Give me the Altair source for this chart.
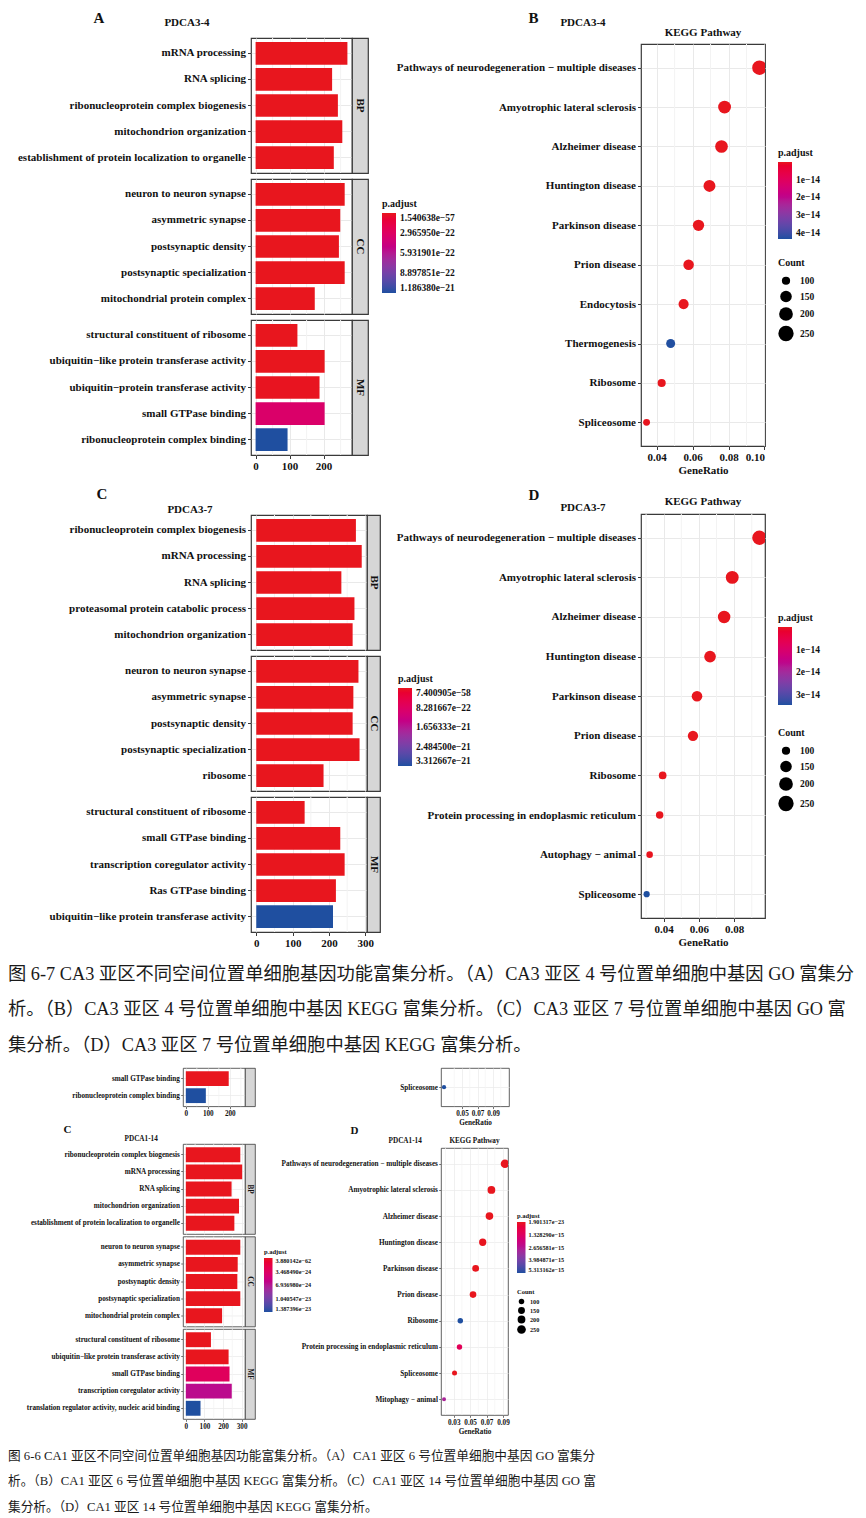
import altair as alt
import pandas as pd

SERIF = "Liberation Serif"
CAPFONT = "Liberation Serif, Noto Sans CJK SC"
RED = "#e8161e"
BLUE = "#1f4fa0"
INK = "#111111"
BORDER = "#3a3a3a"
GRID = "#e9e9e9"
MINOR = "#f3f3f3"
STRIP = "#d6d6d6"

# ---------------- data: panel A (PDCA3-4, GO) ----------------
A_SUB = "PDCA3-4"
A_BP_TERMS = ["mRNA processing", "RNA splicing", "ribonucleoprotein complex biogenesis",
              "mitochondrion organization", "establishment of protein localization to organelle"]
A_BP_COUNT = [270, 225, 242, 255, 230]
A_BP_PADJ = [1.6e-57, 2e-45, 3e-44, 5e-40, 8e-38]
A_CC_TERMS = ["neuron to neuron synapse", "asymmetric synapse", "postsynaptic density",
              "postsynaptic specialization", "mitochondrial protein complex"]
A_CC_COUNT = [262, 249, 245, 262, 174]
A_CC_PADJ = [1e-50, 2e-48, 3e-47, 1e-49, 4e-35]
A_MF_TERMS = ["structural constituent of ribosome", "ubiquitin\u2212like protein transferase activity",
              "ubiquitin\u2212protein transferase activity", "small GTPase binding",
              "ribonucleoprotein complex binding"]
A_MF_COUNT = [123, 203, 188, 203, 94]
A_MF_PADJ = [1e-30, 2e-25, 5e-24, 3.4e-22, 1.18638e-21]
A_PADJ_TICKS = [1.540638e-57, 2.965950e-22, 5.931901e-22, 8.897851e-22, 1.186380e-21]

# ---------------- data: panel B (PDCA3-4, KEGG) ----------------
B_TERMS = ["Pathways of neurodegeneration \u2212 multiple diseases", "Amyotrophic lateral sclerosis",
           "Alzheimer disease", "Huntington disease", "Parkinson disease", "Prion disease",
           "Endocytosis", "Thermogenesis", "Ribosome", "Spliceosome"]
B_RATIO = [0.0972, 0.0778, 0.0761, 0.0694, 0.0633, 0.0578, 0.0550, 0.0478, 0.0428, 0.0344]
B_COUNT = [224, 179, 175, 160, 146, 133, 127, 110, 98, 79]
B_PADJ = [1e-40, 1e-30, 1e-29, 2e-25, 3e-22, 1e-20, 5e-18, 4.33e-14, 2e-19, 1e-16]
B_PADJ_TICKS = [1e-14, 2e-14, 3e-14, 4e-14]
B_PADJ_MAX = 4.35e-14

# ---------------- data: panel C (PDCA3-7, GO) ----------------
C_SUB = "PDCA3-7"
C_BP_TERMS = ["ribonucleoprotein complex biogenesis", "mRNA processing", "RNA splicing",
              "proteasomal protein catabolic process", "mitochondrion organization"]
C_BP_COUNT = [274, 290, 234, 270, 265]
C_BP_PADJ = [7.5e-58, 1e-55, 1e-45, 1e-44, 1e-40]
C_CC_TERMS = ["neuron to neuron synapse", "asymmetric synapse", "postsynaptic density",
              "postsynaptic specialization", "ribosome"]
C_CC_COUNT = [281, 267, 265, 284, 185]
C_CC_PADJ = [1e-50, 1e-48, 1e-47, 1e-49, 1e-35]
C_MF_TERMS = ["structural constituent of ribosome", "small GTPase binding",
              "transcription coregulator activity", "Ras GTPase binding",
              "ubiquitin\u2212like protein transferase activity"]
C_MF_COUNT = [133, 231, 243, 219, 211]
C_MF_PADJ = [1e-33, 1e-27, 1e-26, 1e-25, 3.312667e-21]
C_PADJ_TICKS = [7.400905e-58, 8.281667e-22, 1.656333e-21, 2.484500e-21, 3.312667e-21]

# ---------------- data: panel D (PDCA3-7, KEGG) ----------------
D_TERMS = ["Pathways of neurodegeneration \u2212 multiple diseases", "Amyotrophic lateral sclerosis",
           "Alzheimer disease", "Huntington disease", "Parkinson disease", "Prion disease",
           "Ribosome", "Protein processing in endoplasmic reticulum", "Autophagy \u2212 animal",
           "Spliceosome"]
D_RATIO = [0.0943, 0.0789, 0.0743, 0.0663, 0.0589, 0.0566, 0.0394, 0.0377, 0.0320, 0.0303]
D_COUNT = [217, 181, 171, 152, 135, 130, 91, 87, 74, 70]
D_PADJ = [1e-40, 1e-32, 1e-30, 1e-27, 1e-24, 1e-22, 1e-20, 1e-18, 1e-16, 3.45e-14]
D_PADJ_TICKS = [1e-14, 2e-14, 3e-14]
D_PADJ_MAX = 3.45e-14

# ---------------- data: cut-off remains of the previous figure ----------------
P_TERMS = ["small GTPase binding", "ribonucleoprotein complex binding"]
P_COUNT = [195, 91]
P_PADJ = [1e-30, 1.0]
PR_TERMS = ["Spliceosome"]
PR_RATIO = [0.0268]
PR_COUNT = [55]
PR_PADJ = [1.0]

# ---------------- data: lower panel C (PDCA1-14, GO) ----------------
LC_SUB = "PDCA1-14"
LC_BP_TERMS = ["ribonucleoprotein complex biogenesis", "mRNA processing", "RNA splicing",
               "mitochondrion organization", "establishment of protein localization to organelle"]
LC_BP_COUNT = [293, 303, 246, 286, 261]
LC_BP_PADJ = [3.9e-62, 1e-58, 1e-50, 1e-48, 1e-45]
LC_CC_TERMS = ["neuron to neuron synapse", "asymmetric synapse", "postsynaptic density",
               "postsynaptic specialization", "mitochondrial protein complex"]
LC_CC_COUNT = [293, 279, 277, 293, 195]
LC_CC_PADJ = [1e-55, 1e-52, 1e-51, 1e-54, 1e-38]
LC_MF_TERMS = ["structural constituent of ribosome", "ubiquitin\u2212like protein transferase activity",
               "small GTPase binding", "transcription coregulator activity",
               "translation regulator activity, nucleic acid binding"]
LC_MF_COUNT = [135, 230, 235, 247, 79]
LC_MF_PADJ = [1e-40, 1e-30, 3.2e-24, 6.5e-24, 1.387396e-23]
LC_PADJ_TICKS = [3.880142e-62, 3.468490e-24, 6.936980e-24, 1.040547e-23, 1.387396e-23]

# ---------------- data: lower panel D (PDCA1-14, KEGG) ----------------
LD_TERMS = ["Pathways of neurodegeneration \u2212 multiple diseases", "Amyotrophic lateral sclerosis",
            "Alzheimer disease", "Huntington disease", "Parkinson disease", "Prion disease",
            "Ribosome", "Protein processing in endoplasmic reticulum", "Spliceosome",
            "Mitophagy \u2212 animal"]
LD_RATIO = [0.0924, 0.0759, 0.0735, 0.0653, 0.0567, 0.0535, 0.0380, 0.0370, 0.0310, 0.0182]
LD_COUNT = [240, 197, 191, 170, 147, 139, 99, 96, 81, 47]
LD_PADJ = [1.91e-23, 1e-20, 1e-19, 2e-17, 1e-18, 1e-18, 5.313162e-15, 1.1e-15, 1e-18, 2.9e-15]
LD_PADJ_TICKS = [1.901317e-23, 1.328290e-15, 2.656581e-15, 3.984871e-15, 5.313162e-15]

CAP1 = ["图 6-7 CA3 亚区不同空间位置单细胞基因功能富集分析。（A）CA3 亚区 4 号位置单细胞中基因 GO 富集分",
        "析。（B）CA3 亚区 4 号位置单细胞中基因 KEGG 富集分析。（C）CA3 亚区 7 号位置单细胞中基因 GO 富",
        "集分析。（D）CA3 亚区 7 号位置单细胞中基因 KEGG 富集分析。"]
CAP2 = ["图 6-6 CA1 亚区不同空间位置单细胞基因功能富集分析。（A）CA1 亚区 6 号位置单细胞中基因 GO 富集分",
        "析。（B）CA1 亚区 6 号位置单细胞中基因 KEGG 富集分析。（C）CA1 亚区 14 号位置单细胞中基因 GO 富",
        "集分析。（D）CA1 亚区 14 号位置单细胞中基因 KEGG 富集分析。"]

COUNT_TICKS = [100, 150, 200, 250]
SIZE_DOM_UP = [50, 100, 150, 200, 250, 300]
SIZE_RANGE_UP = [19.6, 67.9, 132.7, 188.7, 235.1, 283.5]
SIZE_DOM_LO = [40, 100, 150, 200, 250, 300]
SIZE_RANGE_LO = [13.9, 30.2, 47.8, 60.8, 75.4, 88.2]


def ind(c):
    return c.resolve_scale(x="independent", y="independent", color="independent", size="independent")


def vstack(*charts, spacing=0):
    return ind(alt.concat(*charts, columns=1, align="none", spacing=spacing))


def hstack(*charts, spacing=0):
    return ind(alt.concat(*charts, columns=len(charts), align="none", spacing=spacing))


def spacer(w=1, h=1):
    return alt.Chart(pd.DataFrame({"d": [0]})).mark_rect(opacity=0).encode(
        x=alt.value(0), x2=alt.value(w), y=alt.value(0), y2=alt.value(h)
    ).properties(width=w, height=h, view=alt.ViewBackground(fill="white", fillOpacity=0, strokeWidth=0))


def tparams(text, fs, dx=0, dy=0, offset=0, anchor="start", frame="bounds"):
    return alt.TitleParams(text=text, font=SERIF, fontSize=fs, fontWeight="bold", color=INK,
                           anchor=anchor, frame=frame, dx=dx, dy=dy, offset=offset)


def grad_legend(st, fmt):
    return alt.Legend(title="p.adjust", orient="none", legendX=st["lx"], legendY=st["ly"],
                      direction="vertical", gradientLength=st["llen"], gradientThickness=st["lthick"],
                      gradientStrokeWidth=0, values=st["cticks"],
                      labelExpr="replace(format(datum.value, '" + fmt + "'), '-', '\u2212')",
                      titleFont=SERIF, titleFontSize=st["ltfs"], titleFontWeight="bold", titleColor=INK,
                      titlePadding=st["ltpad"], labelFont=SERIF, labelFontSize=st["llfs"],
                      labelFontWeight="bold", labelColor=INK, labelOffset=st["loff"], padding=0,
                      labelOverlap=False)


def size_legend(st):
    return alt.Legend(title="Count", orient="none", legendX=st["sx"], legendY=st["sy"], values=COUNT_TICKS,
                      symbolType="circle", symbolFillColor="black", symbolStrokeColor="black",
                      symbolStrokeWidth=0, symbolOpacity=1, titleFont=SERIF, titleFontSize=st["ltfs"],
                      titleFontWeight="bold", titleColor=INK, titlePadding=st["stpad"], labelFont=SERIF,
                      labelFontSize=st["llfs"], labelFontWeight="bold", labelColor=INK,
                      labelOffset=st["sloff"], rowPadding=st["srp"], padding=0)


def yaxis(st):
    return alt.Axis(title=None, domain=False, grid=True, gridColor=GRID, gridWidth=st["gw"],
                    labelFont=SERIF, labelFontSize=st["fs"], labelFontWeight="bold", labelColor=INK,
                    tickColor=BORDER, tickSize=st["tick"], tickWidth=st["tw"], labelPadding=st["lp"],
                    labelLimit=600, minExtent=st["minext"], bandPosition=0.5)


def color_scale(dmin, dmax):
    # descending domain so that the vertical legend shows the smallest value on top (as in ggplot)
    return alt.Scale(domain=[dmax, dmin], range=[BLUE, RED], interpolate="hcl")


def go_panel(cats, st, letter=None, sub=None):
    fs = st["fs"]
    xscale = alt.Scale(domain=st["xdom"], nice=False, zero=False)
    cscale = color_scale(st["cticks"][0], st["cticks"][-1])
    legend = grad_legend(st, ".6e") if st.get("legend", True) else None
    rows = []
    n = len(cats)
    for i, (cat, terms, counts, padj) in enumerate(cats):
        last = i == n - 1
        if last:
            xaxis = alt.Axis(values=st["xticks"], format="d", title=None, domain=False,
                             grid=True, gridColor=GRID, gridWidth=st["gw"], labelFont=SERIF, labelFontSize=fs,
                             labelFontWeight="bold", labelColor=INK, tickColor=BORDER, tickSize=st["tick"],
                             tickWidth=st["tw"], labelPadding=st["lp"])
        else:
            xaxis = alt.Axis(values=st["xticks"], title=None, domain=False, labels=False, ticks=False,
                             grid=True, gridColor=GRID, gridWidth=st["gw"], labelPadding=0, tickSize=0,
                             minExtent=0, maxExtent=0)
        df = pd.DataFrame({"term": terms, "count": counts, "padj": padj})
        minor = alt.Chart(pd.DataFrame({"v": st["minor"]})).mark_rule(
            color=MINOR, strokeWidth=st["gw"]).encode(x=alt.X("v:Q", scale=xscale, axis=xaxis))
        bars = alt.Chart(df).mark_bar().encode(
            y=alt.Y("term:N", sort=terms,
                    scale=alt.Scale(paddingInner=0.13, paddingOuter=st.get("po", 0.15)), axis=yaxis(st)),
            x=alt.X("count:Q", scale=xscale, axis=xaxis),
            x2=alt.datum(0),
            color=alt.Color("padj:Q", scale=cscale, legend=legend),
        )
        plot = alt.layer(minor, bars).properties(
            width=st["w"], height=st["h"],
            view=alt.ViewBackground(fill="white", stroke=BORDER, strokeWidth=st["bw"]))
        label = cat if st.get("striptext", True) else ""
        strip = alt.Chart(pd.DataFrame({"cat": [label]})).mark_text(
            angle=90, font=SERIF, fontSize=fs, fontWeight="bold", color=INK
        ).encode(text="cat:N", x=alt.value(st["sw"] / 2), y=alt.value(st["h"] / 2)).properties(
            width=st["sw"], height=st["h"],
            view=alt.ViewBackground(fill=STRIP, stroke=BORDER, strokeWidth=st["bw"]))
        row = alt.hconcat(plot, strip, spacing=0, bounds="flush")
        if i == 0 and sub:
            row = row.properties(title=tparams(sub, fs, dx=st["sub_dx"], offset=st["o1"]))
        rows.append(row)
    panel = alt.vconcat(*rows, spacing=st["gap"])
    if letter:
        panel = panel.properties(title=tparams(letter, st["letter_fs"], dx=st["letter_dx"], offset=st["oA"]))
    return panel.resolve_scale(y="independent", x="shared", color="shared")


def kegg_panel(terms, ratio, count, padj, st, letter=None, sub=None):
    fs = st["fs"]
    xscale = alt.Scale(domain=st["xdom"], nice=False, zero=False)
    cscale = color_scale(0, st["cmax"])
    xaxis = alt.Axis(values=st["xticks"], format=".2f", title="GeneRatio", titleFont=SERIF, titleFontSize=fs,
                     titleFontWeight="bold", titleColor=INK, titlePadding=st["tp"], domain=False, grid=True,
                     gridColor=GRID, gridWidth=st["gw"], labelFont=SERIF, labelFontSize=fs,
                     labelFontWeight="bold", labelColor=INK, tickColor=BORDER, tickSize=st["tick"],
                     tickWidth=st["tw"], labelPadding=st["lp"])
    df = pd.DataFrame({"term": terms, "ratio": ratio, "count": count, "padj": padj})
    minor = alt.Chart(pd.DataFrame({"v": st["minor"]})).mark_rule(
        color=MINOR, strokeWidth=st["gw"]).encode(x=alt.X("v:Q", scale=xscale, axis=xaxis))
    cleg = grad_legend(st, st["fmt"]) if st.get("legend", True) else None
    sleg = size_legend(st) if st.get("legend", True) else None
    pts = alt.Chart(df).mark_circle(opacity=1, clip=True).encode(
        x=alt.X("ratio:Q", scale=xscale, axis=xaxis),
        y=alt.Y("term:N", sort=terms, scale=alt.Scale(type="point", padding=0.6), axis=yaxis(st)),
        size=alt.Size("count:Q", scale=alt.Scale(domain=st["sdom"], range=st["srange"], zero=False, nice=False),
                      legend=sleg),
        color=alt.Color("padj:Q", scale=cscale, legend=cleg),
    )
    props = dict(width=st["w"], height=st["h"],
                 view=alt.ViewBackground(fill="white", stroke=BORDER, strokeWidth=st["bw"]))
    if st.get("ktitle", True):
        props["title"] = alt.TitleParams(text="KEGG Pathway", anchor="middle", frame="group", font=SERIF,
                                         fontSize=fs, fontWeight="bold", color=INK, offset=st["oK"])
    plot = alt.layer(minor, pts).properties(**props)
    if sub is None:
        return plot
    w1 = ind(alt.vconcat(plot)).properties(title=tparams(sub, fs, dx=st["sub_dx"], offset=st["oP"],
                                                         dy=st.get("sub_dy", 0)))
    w2 = ind(alt.vconcat(w1)).properties(title=tparams(letter, st["letter_fs"], dx=st["letter_dx"],
                                                       offset=st["oB"]))
    return w2


def caption(lines, fs, step, width):
    df = pd.DataFrame({"i": list(range(len(lines))), "t": lines})
    return alt.Chart(df).mark_text(align="left", baseline="middle", font=CAPFONT, fontSize=fs,
                                   color="#1a1a1a").encode(
        y=alt.Y("i:O", axis=None, scale=alt.Scale(paddingInner=0, paddingOuter=0)),
        x=alt.value(0), text="t:N").properties(
        width=width, height=step * len(lines),
        view=alt.ViewBackground(fill="white", strokeWidth=0, stroke="white"))


UP = dict(fs=11, gw=1, bw=1.2, tick=3.5, tw=1, lp=2, letter_fs=15,
          ltfs=10, llfs=9.5, ltpad=4, stpad=8, loff=4, lthick=14, sloff=6, srp=4.5)
LO = dict(fs=7.2, gw=0.7, bw=0.8, tick=2.3, tw=0.7, lp=1.3, letter_fs=11,
          ltfs=6.5, llfs=6.2, ltpad=2.5, stpad=3, loff=3, lthick=8.5, sloff=4, srp=1.5)

stA = dict(UP, w=101, h=135, sw=16, gap=2, minext=241, xdom=[-13.5, 283.5], xticks=[0, 100, 200],
           minor=[50, 150, 250], cticks=A_PADJ_TICKS, lx=131, ly=161, llen=80,
           letter_dx=84, oA=-9, sub_dx=155, o1=8.5)
stC = dict(UP, w=116, h=135, sw=13, gap=2, minext=238, xdom=[-14.5, 304.5], xticks=[0, 100, 200, 300],
           minor=[50, 150, 250], cticks=C_PADJ_TICKS, lx=147, ly=159, llen=78,
           letter_dx=84, oA=2, sub_dx=155, o1=-1.5)
stB = dict(UP, w=124, h=402, minext=250, xdom=[0.0313, 0.1003], xticks=[0.04, 0.06, 0.08, 0.10],
           minor=[0.05, 0.07, 0.09], cmax=B_PADJ_MAX, cticks=B_PADJ_TICKS, fmt=".0e", lx=137, ly=104,
           llen=77, sx=137, sy=214, sdom=SIZE_DOM_UP, srange=SIZE_RANGE_UP, tp=2,
           letter_dx=138, oB=-9, sub_dx=170, oP=-2, oK=5.5)
stD = dict(UP, w=124, h=404, minext=250, xdom=[0.0271, 0.0975], xticks=[0.04, 0.06, 0.08],
           minor=[0.03, 0.05, 0.07, 0.09], cmax=D_PADJ_MAX, cticks=D_PADJ_TICKS, fmt=".0e", lx=137, ly=99,
           llen=78, sx=137, sy=214, sdom=SIZE_DOM_UP, srange=SIZE_RANGE_UP, tp=2,
           letter_dx=138, oB=-8, sub_dx=170, sub_dy=13, oP=-5, oK=6.5)
stPL = dict(LO, w=62, h=38.3, sw=10, gap=0, minext=173, xdom=[-12.8, 269], xticks=[0, 100, 200],
            minor=[50, 150, 250], cticks=[0.0, 1.0], legend=False, striptext=False, po=0.19)
stPR = dict(LO, w=68, h=38.3, minext=165, xdom=[0.0229, 0.1106], xticks=[0.05, 0.07, 0.09],
            minor=[0.04, 0.06, 0.08, 0.10], cmax=1.0, cticks=[1.0], fmt=".0e", legend=False, ktitle=False,
            sdom=SIZE_DOM_LO, srange=SIZE_RANGE_LO, tp=1.5)
stLC = dict(LO, w=62, h=90, sw=10, gap=0.5, minext=173, xdom=[-15.2, 318.2], xticks=[0, 100, 200, 300],
            minor=[50, 150, 250], cticks=LC_PADJ_TICKS, lx=81, ly=105, llen=54, po=0.19,
            letter_dx=54, oA=0, sub_dx=115, o1=1.4)
stLD = dict(LO, w=67, h=267, minext=165, xdom=[0.0145, 0.0961], xticks=[0.03, 0.05, 0.07, 0.09],
            minor=[0.02, 0.04, 0.06, 0.08], cmax=LD_PADJ_TICKS[-1], cticks=LD_PADJ_TICKS, fmt=".6e",
            lx=76, ly=65, llen=51, sx=76, sy=141, sdom=SIZE_DOM_LO, srange=SIZE_RANGE_LO, tp=1.5,
            letter_dx=75, oB=1, sub_dx=113, oP=-7.2, oK=3.4)

A = go_panel([("BP", A_BP_TERMS, A_BP_COUNT, A_BP_PADJ), ("CC", A_CC_TERMS, A_CC_COUNT, A_CC_PADJ),
              ("MF", A_MF_TERMS, A_MF_COUNT, A_MF_PADJ)], stA, letter="A", sub=A_SUB)
B = kegg_panel(B_TERMS, B_RATIO, B_COUNT, B_PADJ, stB, letter="B", sub=A_SUB)
C = go_panel([("BP", C_BP_TERMS, C_BP_COUNT, C_BP_PADJ), ("CC", C_CC_TERMS, C_CC_COUNT, C_CC_PADJ),
              ("MF", C_MF_TERMS, C_MF_COUNT, C_MF_PADJ)], stC, letter="C", sub=C_SUB)
D = kegg_panel(D_TERMS, D_RATIO, D_COUNT, D_PADJ, stD, letter="D", sub=C_SUB)

PL = go_panel([("MF", P_TERMS, P_COUNT, P_PADJ)], stPL)
PR = kegg_panel(PR_TERMS, PR_RATIO, PR_COUNT, PR_PADJ, stPR)
LC = go_panel([("BP", LC_BP_TERMS, LC_BP_COUNT, LC_BP_PADJ), ("CC", LC_CC_TERMS, LC_CC_COUNT, LC_CC_PADJ),
               ("MF", LC_MF_TERMS, LC_MF_COUNT, LC_MF_PADJ)], stLC, letter="C", sub=LC_SUB)
LD = kegg_panel(LD_TERMS, LD_RATIO, LD_COUNT, LD_PADJ, stLD, letter="D", sub=LC_SUB)

# columns: a 1px spacer first anchors each column at its top edge
colL = vstack(spacer(), vstack(A, C, spacing=14))
colR = vstack(spacer(), vstack(B, D, spacing=11))
upper = hstack(spacer(), hstack(colL, colR, spacing=-81))

low_left = ind(alt.vconcat(PL, LC, spacing=5))
low_right = ind(alt.vconcat(PR, LD, spacing=-3))
lower = hstack(spacer(), hstack(low_left, low_right, spacing=-37))

cap1 = caption(CAP1, 18.3, 35.5, 850)
cap2 = caption(CAP2, 12.7, 25.5, 850)

chart = vstack(upper, spacer(h=6.5), cap1, spacer(h=3), lower, spacer(h=8), cap2).properties(
    padding={"left": 0, "top": 2, "right": 0, "bottom": 0}
).configure_view(stroke="transparent").configure(background="white")

chart.save("out.html", embed_options={"renderer": "svg", "actions": False})
